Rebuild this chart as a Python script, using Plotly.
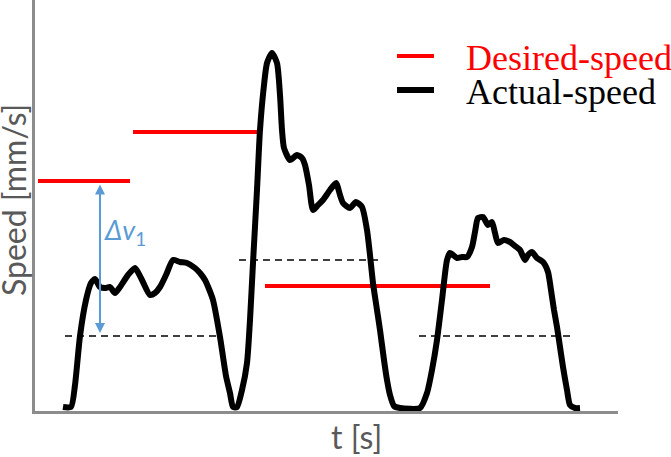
import plotly.graph_objects as go

# ---- data (chart units: t along x, speed along y) ----
actual_t = [63, 71, 75, 80, 86, 91, 95, 100, 105, 110, 115, 120, 128, 135, 142, 150, 155, 160, 166, 173,
            180, 187, 195, 200, 205, 209, 213, 220, 226, 230, 233, 237, 242, 247, 250, 253, 257, 260, 264, 267,
            272, 277, 280, 282, 284, 290, 297, 302, 305, 309, 313, 318, 323, 330, 336, 340, 343, 350, 356, 362,
            367, 370, 373, 377, 380, 384, 387, 390, 394, 400, 420, 427, 432, 437, 442, 447, 450, 457, 462, 467,
            472, 475, 478, 483, 488, 492, 495, 498, 504, 510, 515, 520, 525, 528, 532, 537, 543, 548, 551, 554,
            557, 560, 563, 567, 570, 575, 580]
actual_v = [4, 4, 26, 75, 111, 128, 132, 124, 123, 124, 118, 124, 136, 143, 131, 116, 118, 124, 136, 151,
            149, 148, 143, 138, 131, 122, 111, 74, 35, 18, 4, 4, 21, 48, 91, 148, 221, 281, 326, 348,
            358, 348, 316, 281, 263, 251, 256, 253, 246, 226, 201, 206, 211, 221, 228, 216, 208, 203, 209, 204,
            181, 156, 128, 101, 81, 51, 31, 16, 5, 3, 3, 18, 41, 71, 111, 151, 158, 153, 154, 154,
            164, 179, 193, 194, 186, 189, 178, 168, 171, 169, 165, 161, 151, 156, 159, 153, 149, 139, 121, 101,
            84, 64, 44, 21, 6, 3, 3]

desired_t0 = [38, 133, 265]
desired_t1 = [130, 258, 490]
desired_v = [230, 279, 125]

ref_t0 = [65, 239, 419]
ref_t1 = [222, 382, 575]
ref_v = [75, 151, 75]

delta_t = 100
delta_lo = 78
delta_hi = 228

T_RANGE = [35, 618]
V_RANGE = [0, 411]

# ---- build segment traces ----
def segments(t0, t1, v):
    xs, ys = [], []
    for a, b, c in zip(t0, t1, v):
        xs += [a, b, None]
        ys += [c, c, None]
    return xs, ys

dx, dy = segments(desired_t0, desired_t1, desired_v)
rx, ry = segments(ref_t0, ref_t1, ref_v)

fig = go.Figure()
fig.add_trace(go.Scatter(x=rx, y=ry, mode="lines", showlegend=False, hoverinfo="skip",
                         line=dict(color="black", width=1.4, dash="7px,5px")))
fig.add_trace(go.Scatter(x=dx, y=dy, mode="lines", name="&nbsp;&nbsp;&nbsp;Desired-speed", legend="legend",
                         line=dict(color="#ff0000", width=4)))
fig.add_trace(go.Scatter(x=actual_t, y=actual_v, mode="lines", name="&nbsp;&nbsp;&nbsp;Actual-speed", legend="legend2",
                         line=dict(color="black", width=6, shape="spline", smoothing=0.6)))

fig.add_annotation(x=delta_t, y=delta_lo, ax=delta_t, ay=delta_hi, xref="x", yref="y",
                   axref="x", ayref="y", text="", showarrow=True, arrowside="end+start",
                   arrowhead=2, arrowsize=1, arrowwidth=2, arrowcolor="#5b9bd5")
fig.add_annotation(x=102, y=411 - 231, xref="x", yref="y", xanchor="left", yanchor="middle",
                   text="<i>Δv</i><sub>1</sub>", showarrow=False,
                   font=dict(family="Lato", size=27, color="#5b9bd5"))

fig.add_annotation(x=(356 - 35) / 583, y=(411 - 436) / 411, xref="paper", yref="paper",
                   text="t [s]", showarrow=False, xanchor="center", yanchor="middle",
                   font=dict(family="Lato", size=32, color="#595959"))
fig.add_annotation(x=(14 - 35) / 583, y=(411 - 200) / 411, xref="paper", yref="paper",
                   text="Speed [mm/s]", showarrow=False, textangle=-90, xanchor="center", yanchor="middle",
                   font=dict(family="Lato", size=32, color="#595959"))

legend_common = dict(bgcolor="rgba(0,0,0,0)", borderwidth=0, xanchor="left", yanchor="middle",
                     itemwidth=37)
fig.update_layout(
    width=671, height=457,
    margin=dict(l=35, r=53, t=0, b=46, autoexpand=False),
    paper_bgcolor="white", plot_bgcolor="white",
    xaxis=dict(range=T_RANGE, showgrid=False, zeroline=False, showticklabels=False, ticks="",
               showline=True, linecolor="#8c8c8c", linewidth=2.5),
    yaxis=dict(range=V_RANGE, showgrid=False, zeroline=False, showticklabels=False, ticks="",
               showline=True, linecolor="#8c8c8c", linewidth=2.5),
    legend=dict(x=(392 - 35) / 583, y=(411 - 56) / 411,
                font=dict(family="Liberation Serif", size=36, color="#ff0000"), **legend_common),
    legend2=dict(x=(392 - 35) / 583, y=(411 - 90) / 411,
                 font=dict(family="Liberation Serif", size=36, color="black"), **legend_common),
    showlegend=True,
)

fig.write_html("out.html")
